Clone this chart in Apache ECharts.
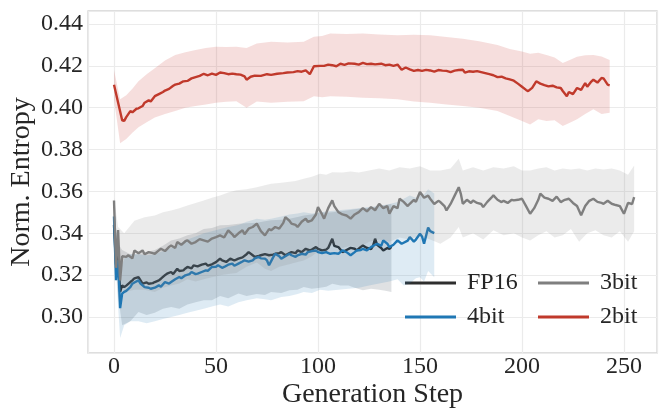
<!DOCTYPE html>
<html>
<head>
<meta charset="utf-8">
<script src="https://cdn.jsdelivr.net/npm/echarts@6/dist/echarts.min.js"></script>
<style>html,body{margin:0;padding:0;background:#fff;}#c{width:660px;height:414px;}</style>
</head>
<body>
<div id="c"></div>
<script>
// ---------- DATA ----------
var xTicks = [0, 50, 100, 150, 200, 250];
var yTicks = [0.30, 0.32, 0.34, 0.36, 0.38, 0.40, 0.42, 0.44];
var seriesNames = ['FP16', '4bit', '3bit', '2bit'];

// FP16 mean
var fp16Steps = [0,1,2,3,4,5,6,8,9,10,12,13,14,16,17,19,20,22,23,25,26,28,29,31,32,34,35,36,38,39,41,43,45,46,48,50,52,53,55,57,59,61,63,65,66,68,69,71,72,74,76,78,79,81,82,84,86,87,89,90,92,94,96,97,99,100,102,104,105,107,108,110,111,112,114,116,118,119,121,122,124,126,127,128,129,131,132,134,135,136];
var fp16Vals = [0.344,0.325,0.330,0.312,0.3151,0.3143,0.3150,0.3167,0.3175,0.3185,0.3191,0.3175,0.3159,0.3165,0.3159,0.3162,0.3167,0.3175,0.3183,0.3200,0.3207,0.3215,0.3205,0.3230,0.3220,0.3223,0.3232,0.3239,0.3232,0.3247,0.3242,0.3250,0.3255,0.3245,0.3252,0.3262,0.3279,0.3270,0.3263,0.3279,0.3270,0.3279,0.3285,0.3300,0.3310,0.3295,0.3287,0.3292,0.3295,0.3300,0.3295,0.3298,0.3302,0.3305,0.3310,0.3295,0.3305,0.3310,0.3305,0.3318,0.3310,0.3326,0.3318,0.3322,0.3334,0.3326,0.3318,0.3322,0.3330,0.3374,0.3340,0.3334,0.3322,0.3310,0.3320,0.3330,0.3326,0.3318,0.3335,0.3342,0.3330,0.3325,0.3340,0.3374,0.3345,0.3330,0.3318,0.3330,0.3326,0.3335];
// FP16 band
var fp16BandSteps = [0,2,4,8,12,16,20,24,28,32,36,40,44,48,52,56,61,65,70,74,77,82,86,90,93,97,101,104,107,111,115,118,122,126,130,133,136];
var fp16BandLo = [0.335,0.310,0.296,0.298,0.3024,0.301,0.302,0.304,0.3048,0.304,0.306,0.307,0.308,0.308,0.310,0.309,0.3112,0.310,0.311,0.3105,0.312,0.3115,0.3128,0.313,0.3143,0.3135,0.314,0.3145,0.3159,0.3150,0.315,0.3140,0.3128,0.3135,0.313,0.3125,0.312];
var fp16BandHi = [0.350,0.335,0.332,0.330,0.330,0.331,0.332,0.334,0.3366,0.3375,0.339,0.340,0.342,0.3425,0.3438,0.3440,0.3445,0.3448,0.345,0.3458,0.3462,0.3465,0.347,0.3478,0.3485,0.3490,0.350,0.3498,0.3501,0.3505,0.351,0.3515,0.352,0.3522,0.353,0.3535,0.354];

// 4bit mean
var q4Steps = [0,1,2,3,4,5,6,8,9,10,12,13,15,17,18,20,22,23,25,27,28,30,32,33,35,37,38,40,41,43,45,46,48,50,51,53,54,56,58,59,61,63,64,66,68,69,71,72,74,75,76,78,79,81,82,84,86,87,89,90,92,94,95,97,99,100,102,104,106,108,110,112,114,116,118,119,121,122,124,126,128,129,131,132,134,135,137,139,141,142,144,145,147,148,150,151,152,154,155,157];
var q4Vals = [0.348,0.3176,0.3271,0.3042,0.3112,0.3120,0.3125,0.3143,0.3159,0.3165,0.3175,0.3160,0.3143,0.3140,0.3135,0.3140,0.3151,0.3145,0.3167,0.3160,0.3167,0.3180,0.3191,0.3185,0.3199,0.3205,0.3215,0.3205,0.3207,0.3215,0.3223,0.3220,0.3239,0.3240,0.3247,0.3235,0.3239,0.3250,0.3255,0.3245,0.3255,0.3265,0.3271,0.3265,0.3271,0.3280,0.3287,0.3280,0.3279,0.3270,0.3247,0.3285,0.3302,0.3290,0.3279,0.3290,0.3302,0.3295,0.3287,0.3295,0.3302,0.3298,0.3310,0.3315,0.3318,0.3310,0.3306,0.3310,0.3302,0.3305,0.3302,0.3318,0.3310,0.3295,0.3310,0.3318,0.3320,0.3326,0.3318,0.3334,0.3345,0.3350,0.3340,0.3366,0.3350,0.3334,0.3345,0.3366,0.3350,0.3355,0.3365,0.3382,0.3360,0.3370,0.3398,0.3385,0.3350,0.3427,0.3410,0.3401];
// 4bit band
var q4BandSteps = [0,2,3,5,8,12,16,20,24,28,32,36,40,44,48,52,56,61,65,70,74,77,82,86,90,93,97,101,105,110,115,120,125,130,135,139,142,145,148,150,152,154,157];
var q4BandLo = [0.340,0.305,0.290,0.296,0.298,0.298,0.297,0.298,0.299,0.300,0.301,0.302,0.303,0.304,0.305,0.306,0.305,0.307,0.308,0.309,0.3085,0.308,0.3095,0.310,0.311,0.312,0.3115,0.313,0.3125,0.313,0.3135,0.314,0.315,0.316,0.317,0.318,0.315,0.316,0.3185,0.319,0.317,0.322,0.319];
var q4BandHi = [0.352,0.332,0.322,0.328,0.330,0.330,0.3295,0.330,0.3315,0.333,0.335,0.337,0.3385,0.340,0.341,0.342,0.343,0.344,0.3455,0.347,0.3465,0.347,0.348,0.349,0.3495,0.350,0.3495,0.350,0.3505,0.351,0.3515,0.352,0.3525,0.353,0.354,0.355,0.3565,0.358,0.357,0.360,0.3585,0.361,0.359];

// 3bit mean
var q3Steps = [0,1,2,3,4,6,7,9,10,12,14,15,17,19,20,22,23,25,27,28,30,31,33,35,36,38,40,42,44,46,48,50,52,54,56,58,59,61,63,64,66,68,70,72,74,76,77,79,81,83,84,86,87,89,90,92,94,95,97,99,100,102,103,105,107,108,110,112,114,116,118,120,122,124,126,128,130,132,134,135,137,139,140,142,144,145,147,148,150,152,154,155,157,159,160,162,163,165,167,169,170,171,173,175,176,178,180,181,183,185,186,188,190,191,193,195,196,198,200,202,204,206,208,209,211,213,215,217,219,221,223,225,227,229,231,233,235,237,239,240,242,244,246,248,250,252,254,255];
var q3Vals = [0.3557,0.3235,0.3415,0.3175,0.3290,0.3287,0.3295,0.3280,0.3318,0.3305,0.3318,0.3300,0.3310,0.3305,0.3302,0.3318,0.3326,0.3315,0.3335,0.3342,0.3330,0.3358,0.3345,0.3362,0.3366,0.3350,0.3358,0.3372,0.3366,0.3360,0.3375,0.3382,0.3390,0.3380,0.3414,0.3395,0.3382,0.3400,0.3414,0.3395,0.3422,0.3430,0.3446,0.3410,0.3390,0.3420,0.3414,0.3430,0.3422,0.3450,0.3477,0.3460,0.3446,0.3440,0.3430,0.3455,0.3470,0.3455,0.3462,0.3490,0.3525,0.3490,0.3470,0.3520,0.3557,0.3530,0.3501,0.3490,0.3485,0.3470,0.3490,0.3501,0.3520,0.3505,0.3525,0.3510,0.3541,0.3520,0.3530,0.3493,0.3530,0.3520,0.3565,0.3550,0.3530,0.3541,0.3560,0.3550,0.3597,0.3570,0.3580,0.3565,0.3540,0.3555,0.3549,0.3530,0.3509,0.3540,0.3580,0.3620,0.3590,0.3541,0.3560,0.3545,0.3557,0.3545,0.3540,0.3525,0.3550,0.3570,0.3581,0.3560,0.3549,0.3555,0.3545,0.3560,0.3557,0.3560,0.3565,0.3530,0.3493,0.3520,0.3560,0.3589,0.3570,0.3565,0.3555,0.3575,0.3549,0.3560,0.3565,0.3545,0.3530,0.3486,0.3530,0.3555,0.3565,0.3550,0.3545,0.3541,0.3555,0.3541,0.3535,0.3530,0.3493,0.3545,0.3540,0.3573];
// 3bit band
var q3BandSteps = [0,2,5,10,15,20,24,28,32,36,40,44,48,52,56,60,65,70,74,77,81,85,89,93,97,101,104,107,112,116,120,125,130,135,140,145,150,155,160,165,169,171,176,181,186,191,196,200,204,208,212,216,220,224,228,232,236,240,244,248,252,255];
var q3BandLo = [0.340,0.320,0.312,0.313,0.313,0.312,0.314,0.315,0.316,0.318,0.317,0.318,0.319,0.320,0.3205,0.321,0.324,0.326,0.323,0.322,0.324,0.325,0.326,0.327,0.329,0.332,0.331,0.335,0.333,0.334,0.333,0.336,0.337,0.336,0.338,0.337,0.339,0.337,0.335,0.338,0.343,0.338,0.340,0.337,0.3414,0.339,0.340,0.338,0.3366,0.339,0.341,0.338,0.339,0.342,0.336,0.340,0.3414,0.339,0.338,0.341,0.336,0.341];
var q3BandHi = [0.357,0.343,0.340,0.346,0.3477,0.3485,0.350,0.3509,0.352,0.3533,0.3545,0.3557,0.357,0.3581,0.3595,0.3605,0.361,0.362,0.363,0.3637,0.364,0.3645,0.365,0.366,0.367,0.3684,0.368,0.3692,0.369,0.3695,0.369,0.370,0.371,0.370,0.3716,0.371,0.372,0.370,0.370,0.371,0.3756,0.370,0.3715,0.370,0.3716,0.371,0.372,0.370,0.370,0.371,0.3715,0.370,0.371,0.3705,0.371,0.370,0.371,0.3705,0.371,0.370,0.368,0.3724];

// 2bit mean
var q2Steps = [0,2,4,5,6,8,9,11,12,14,15,17,18,20,22,24,25,27,29,30,32,34,36,38,40,42,44,46,48,50,52,54,56,58,60,62,64,65,67,69,72,75,77,80,83,85,88,90,92,94,96,98,101,103,105,107,109,111,113,115,118,120,122,124,126,128,131,133,135,137,139,141,143,145,147,149,151,153,155,157,159,161,163,165,167,169,171,172,174,176,178,180,182,184,186,188,190,192,194,196,198,200,202,203,205,207,209,211,213,215,217,219,220,222,223,225,227,229,231,232,234,235,237,239,240,242,243];
var q2Vals = [0.4110,0.4025,0.3940,0.3937,0.3955,0.3984,0.3978,0.3995,0.3997,0.4008,0.4024,0.4035,0.4030,0.4055,0.4065,0.4075,0.4082,0.4090,0.4105,0.4110,0.4115,0.4126,0.4128,0.4140,0.4146,0.4152,0.4162,0.4155,0.4163,0.4157,0.4168,0.4165,0.4160,0.4163,0.4160,0.4158,0.4150,0.4134,0.4148,0.4153,0.4152,0.4160,0.4157,0.4162,0.4165,0.4168,0.4170,0.4175,0.4172,0.4178,0.4160,0.4198,0.4200,0.4200,0.4206,0.4203,0.4198,0.4210,0.4205,0.4212,0.4210,0.4206,0.4214,0.4208,0.4210,0.4207,0.4210,0.4203,0.4206,0.4200,0.4206,0.4181,0.4192,0.4183,0.4176,0.4180,0.4176,0.4181,0.4178,0.4172,0.4180,0.4177,0.4176,0.4170,0.4177,0.4180,0.4181,0.4168,0.4174,0.4172,0.4175,0.4170,0.4165,0.4160,0.4155,0.4146,0.4148,0.4140,0.4135,0.4129,0.4115,0.4100,0.4085,0.4079,0.4095,0.4126,0.4115,0.4108,0.4102,0.4105,0.4097,0.4094,0.4080,0.4055,0.4075,0.4065,0.4094,0.4085,0.4118,0.4100,0.4125,0.4134,0.4120,0.4142,0.4140,0.4110,0.4107];
// 2bit band
var q2BandSteps = [0,3,6,9,12,16,20,25,30,35,40,45,50,55,60,65,70,77,85,93,98,102,106,114,122,130,139,147,155,163,171,179,188,194,200,204,208,212,216,220,224,227,231,235,239,243];
var q2BandLo = [0.404,0.383,0.385,0.388,0.3906,0.393,0.3953,0.397,0.3984,0.4,0.4008,0.4015,0.4024,0.4028,0.4031,0.400,0.403,0.4024,0.4028,0.4031,0.4055,0.405,0.4055,0.4052,0.4047,0.4045,0.404,0.403,0.4024,0.4015,0.4008,0.400,0.3984,0.396,0.3937,0.392,0.3945,0.3937,0.394,0.3913,0.393,0.3945,0.397,0.3992,0.397,0.3976];
var q2BandHi = [0.418,0.404,0.406,0.409,0.4126,0.416,0.4189,0.4225,0.4252,0.4265,0.4276,0.4285,0.4291,0.429,0.4291,0.4285,0.4307,0.4315,0.4312,0.4315,0.4339,0.4342,0.4354,0.4352,0.4354,0.435,0.4346,0.4348,0.4346,0.4338,0.433,0.4318,0.4299,0.428,0.4268,0.4258,0.4262,0.4252,0.424,0.4213,0.423,0.4244,0.425,0.4252,0.4245,0.4228];

// ---------- CHART ----------
var FONT = 'Liberation Serif';
var colors = { 'FP16': '#2e2e2e', '4bit': '#1f77b4', '3bit': '#7f7f7f', '2bit': '#c0392b' };
var bandColors = { 'FP16': 'rgba(40,55,70,0.15)', '4bit': 'rgba(31,119,180,0.15)', '3bit': 'rgba(128,128,128,0.16)', '2bit': 'rgba(200,50,45,0.16)' };

function zip(a, b) { return a.map(function (v, i) { return [v, b[i]]; }); }
function zip3(a, b, c) { return a.map(function (v, i) { return [v, b[i], c[i]]; }); }

var specs = [
  { name: 'FP16', steps: fp16Steps, vals: fp16Vals, bs: fp16BandSteps, lo: fp16BandLo, hi: fp16BandHi },
  { name: '4bit', steps: q4Steps, vals: q4Vals, bs: q4BandSteps, lo: q4BandLo, hi: q4BandHi },
  { name: '3bit', steps: q3Steps, vals: q3Vals, bs: q3BandSteps, lo: q3BandLo, hi: q3BandHi },
  { name: '2bit', steps: q2Steps, vals: q2Vals, bs: q2BandSteps, lo: q2BandLo, hi: q2BandHi }
];

function bandRenderer(rows, color) {
  return function (params, api) {
    if (params.dataIndex !== 0) return null;
    var pts = [];
    for (var i = 0; i < rows.length; i++) pts.push(api.coord([rows[i][0], rows[i][2]]));
    for (var j = rows.length - 1; j >= 0; j--) pts.push(api.coord([rows[j][0], rows[j][1]]));
    return { type: 'polygon', shape: { points: pts }, style: { fill: color }, silent: true };
  };
}

var series = [];
specs.forEach(function (s, k) {
  var rows = zip3(s.bs, s.lo, s.hi);
  series.push({
    type: 'custom', name: s.name + '_band', data: rows, encode: { x: 0, y: [1, 2] },
    renderItem: bandRenderer(rows, bandColors[s.name]), silent: true, z: 2 + k * 2
  });
  series.push({
    type: 'line', name: s.name, data: zip(s.steps, s.vals), showSymbol: false,
    lineStyle: { color: colors[s.name], width: 2.4 }, itemStyle: { color: colors[s.name] },
    z: 3 + k * 2
  });
});

function legendAt(name, left, top) {
  return {
    data: [name], left: left, top: top, padding: 0, icon: 'rect', itemWidth: 51, itemHeight: 3,
    textStyle: { fontFamily: FONT, fontSize: 24, color: '#262626', lineHeight: 26, padding: [0, 0, 0, 6] },
    selectedMode: false
  };
}

var chart = echarts.init(document.getElementById('c'), null, { renderer: 'canvas' });
chart.setOption({
  animation: false,
  backgroundColor: '#ffffff',
  grid: { left: 88, top: 11, right: 3, bottom: 61, show: true, borderColor: '#d4d4d4', borderWidth: 1.3, backgroundColor: 'transparent', outerBoundsMode: 'none', containLabel: false },
  legend: [
    legendAt('FP16', 405, 270),
    legendAt('3bit', 538, 270),
    legendAt('4bit', 405, 304),
    legendAt('2bit', 538, 304)
  ],
  xAxis: {
    type: 'value', min: -12.75, max: 266.2, splitNumber: 5,
    name: 'Generation Step', nameLocation: 'middle', nameGap: 28, nameMoveOverlap: false,
    nameTextStyle: { fontFamily: FONT, fontSize: 28, color: '#262626' },
    axisLine: { show: false }, axisTick: { show: false },
    axisLabel: {
      fontFamily: FONT, fontSize: 24, color: '#262626', margin: 2,
      formatter: function (v) { return xTicks.indexOf(Math.round(v)) >= 0 && Math.abs(v - Math.round(v)) < 1e-6 ? String(Math.round(v)) : ''; }
    },
    splitLine: { show: true, lineStyle: { color: '#ebebeb', width: 1.2 } }
  },
  yAxis: {
    type: 'value', min: 0.2828, max: 0.4462, splitNumber: 8,
    name: 'Norm. Entropy', nameLocation: 'middle', nameGap: 52, nameMoveOverlap: false,
    nameTextStyle: { fontFamily: FONT, fontSize: 28, color: '#262626' },
    axisLine: { show: false }, axisTick: { show: false },
    axisLabel: {
      fontFamily: FONT, fontSize: 24, color: '#262626', margin: 5,
      formatter: function (v) {
        for (var i = 0; i < yTicks.length; i++) { if (Math.abs(v - yTicks[i]) < 1e-6) return yTicks[i].toFixed(2); }
        return '';
      }
    },
    splitLine: { show: true, lineStyle: { color: '#ebebeb', width: 1.2 } }
  },
  series: series
});
</script>
</body>
</html>
